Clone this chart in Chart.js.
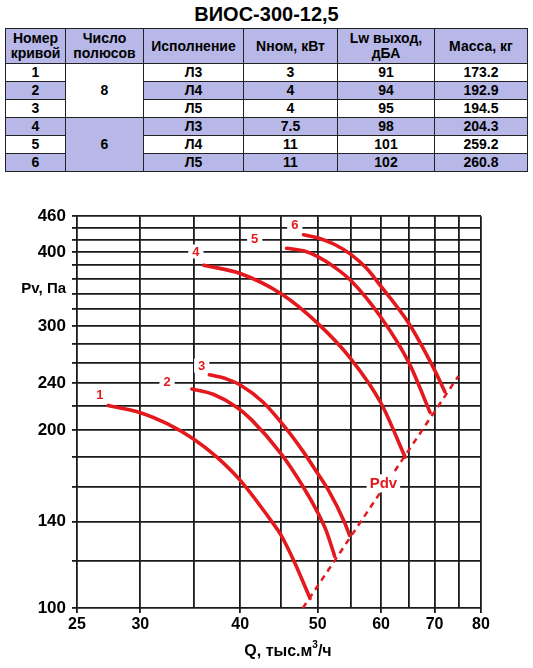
<!DOCTYPE html>
<html>
<head>
<meta charset="utf-8">
<script src="https://cdn.jsdelivr.net/npm/chart.js@4/dist/chart.umd.min.js"></script>
<style>
  html, body { margin:0; padding:0; background:#fff; }
  body { width:533px; height:668px; position:relative; overflow:hidden; font-family:"Liberation Sans", Arial, sans-serif; }
  #title { position:absolute; left:0; top:1px; width:533px; text-align:center; font-weight:bold; font-size:20px; line-height:26px; color:#000; }
  #tbl { position:absolute; left:5px; top:28px; border-collapse:collapse; table-layout:fixed; }
  #tbl td, #tbl th { border:1px solid #222; padding:0; text-align:center; font-weight:bold; font-size:14px; color:#000; }
  #tbl th { height:34px; line-height:15px; background:#b8b8e8; }
  #tbl td { height:17px; line-height:17px; }
  #tbl .lav { background:#b8b8e8; }
  #wrap { position:absolute; left:0; top:200px; width:533px; height:468px; }
</style>
</head>
<body>
<div id="title">ВИОС-300-12,5</div>
<table id="tbl"></table>
<div id="wrap"><canvas id="c" width="533" height="468"></canvas></div>
<script>
// ---- table data ----
const tableHeaders = ['Номер<br>кривой', 'Число<br>полюсов', 'Исполнение', 'Nном, кВт', 'Lw выход,<br>дБА', 'Масса, кг'];
const curveNo = ['1', '2', '3', '4', '5', '6'];
const poles = ['8', '8', '8', '6', '6', '6'];
const versions = ['Л3', 'Л4', 'Л5', 'Л3', 'Л4', 'Л5'];
const powerKW = ['3', '4', '4', '7.5', '11', '11'];
const lwOut = ['91', '94', '95', '98', '101', '102'];
const massKg = ['173.2', '192.9', '194.5', '204.3', '259.2', '260.8'];

// ---- curve data (Q, тыс.м3/ч ; Pv, Па) ----
const c1Q = [27.35, 30, 32.4, 35, 37.4, 40, 43.8, 45, 46.7, 48.9];
const c1P = [220, 214, 205, 193, 180, 164.4, 140, 132.7, 120, 103.8];
const c2Q = [34.8, 37, 39.6, 41.3, 45, 47.9, 50, 51.2, 52.5];
const c2P = [234.7, 229.9, 218.6, 208.3, 182.3, 160.7, 145, 135.4, 122.3];
const c3Q = [36.6, 38.5, 40, 42.7, 45.6, 48, 50, 51.6, 54, 54.8];
const c3P = [248, 243.9, 238.4, 223.1, 201.5, 183.5, 168.8, 157.9, 139.7, 132.7];
const c4Q = [36.0, 40, 45, 50, 55, 60, 64.3];
const c4P = [380, 368, 340, 303, 264, 222, 180];
const c5Q = [45.7, 48, 50, 52.5, 55, 60, 65, 69.1];
const c5P = [406, 402, 393, 377, 358, 310, 260, 214];
const c6Q = [48, 50.5, 52.5, 55, 57.5, 60, 65, 70, 72.1];
const c6P = [428, 421, 412, 396.4, 375.8, 349.9, 302.9, 252.6, 232.1];
const pdvQ = [47.9, 75];
const pdvP = [100, 247];

const curveLabels = ['1', '2', '3', '4', '5', '6'];
const curveLabelQ = [26.7, 32.4, 35.8, 35.2, 41.7, 46.8];
const curveLabelP = [230, 242, 257, 401, 422, 446];
const pdvLabelQ = 60.4;
const pdvLabelP = 162.5;

// ---- axis ticks ----
const xGridValues = [25, 30, 35, 40, 45, 50, 55, 60, 65, 70, 75, 80];
const xTickLabels = [25, 30, 40, 50, 60, 70, 80];
const yGridValues = [100, 120, 140, 160, 180, 200, 220, 240, 260, 280, 300, 320, 340, 360, 380, 400, 420, 440, 460];
const yTickLabels = [100, 140, 200, 240, 300, 400, 460];
const yTitleValue = 346;
const yTitleText = 'Pv, Па';

// ---- build table ----
(function () {
  const t = document.getElementById('tbl');
  const widths = [60, 78, 100, 94, 97, 93];
  let cg = '<colgroup>' + widths.map(w => '<col style="width:' + w + 'px">').join('') + '</colgroup>';
  let h = '<tr>' + tableHeaders.map(x => '<th>' + x + '</th>').join('') + '</tr>';
  for (let i = 0; i < curveNo.length; i++) {
    const lav = (i % 2 === 1) ? ' class="lav"' : '';
    let r = '<tr>';
    r += '<td' + lav + '>' + curveNo[i] + '</td>';
    if (i % 3 === 0) {
      const pl = (i >= 3) ? ' class="lav"' : '';
      r += '<td rowspan="3"' + pl + '>' + poles[i] + '</td>';
    }
    r += '<td' + lav + '>' + versions[i] + '</td>';
    r += '<td' + lav + '>' + powerKW[i] + '</td>';
    r += '<td' + lav + '>' + lwOut[i] + '</td>';
    r += '<td' + lav + '>' + massKg[i] + '</td>';
    r += '</tr>';
    h += r;
  }
  t.innerHTML = cg + h;
})();

// ---- chart ----
const RED = '#e3191e';
const GRID = '#1a1a1a';
const FONT = '"Liberation Sans", Arial, sans-serif';
function pts(qs, ps) { return qs.map((q, i) => ({ x: q, y: ps[i] })); }
function curveDs(qs, ps) {
  return { data: pts(qs, ps), borderColor: RED, borderWidth: 3.6, pointRadius: 0, showLine: true, cubicInterpolationMode: 'monotone', borderCapStyle: 'round', borderJoinStyle: 'round', fill: false };
}

const labelPlugin = {
  id: 'labels',
  afterDatasetsDraw(chart) {
    const ctx = chart.ctx;
    const xs = chart.scales.x, ys = chart.scales.y;
    ctx.save();
    ctx.textAlign = 'center';
    ctx.textBaseline = 'middle';
    ctx.font = 'bold 13px ' + FONT;
    curveLabels.forEach((t, i) => {
      const px = xs.getPixelForValue(curveLabelQ[i]);
      const py = ys.getPixelForValue(curveLabelP[i]);
      const w = ctx.measureText(t).width + 8;
      ctx.fillStyle = '#fff';
      ctx.fillRect(px - w / 2, py - 7, w, 14);
      ctx.fillStyle = RED;
      ctx.fillText(t, px, py + 1);
    });
    ctx.font = 'bold 15px ' + FONT;
    const px = xs.getPixelForValue(pdvLabelQ);
    const py = ys.getPixelForValue(pdvLabelP);
    const w = ctx.measureText('Pdv').width + 6;
    ctx.fillStyle = '#fff';
    ctx.fillRect(px - w / 2, py - 9, w, 18);
    ctx.fillStyle = RED;
    ctx.fillText('Pdv', px, py + 1);
    ctx.restore();
  },
  afterDraw(chart) {
    const ctx = chart.ctx;
    ctx.save();
    ctx.fillStyle = '#000';
    ctx.textBaseline = 'alphabetic';
    ctx.textAlign = 'left';
    const a = 'Q, тыс.м', b = '/ч';
    ctx.font = 'bold 16px ' + FONT;
    const wa = ctx.measureText(a).width;
    ctx.font = 'bold 10px ' + FONT;
    const ws = ctx.measureText('3').width;
    ctx.font = 'bold 16px ' + FONT;
    const wb = ctx.measureText(b).width;
    const total = wa + ws + wb;
    const x0 = 288 - total / 2;
    const y0 = 456;
    ctx.fillText(a, x0, y0);
    ctx.font = 'bold 10px ' + FONT;
    ctx.fillText('3', x0 + wa, y0 - 8);
    ctx.font = 'bold 16px ' + FONT;
    ctx.fillText(b, x0 + wa + ws, y0);
    ctx.restore();
  }
};

new Chart(document.getElementById('c'), {
  type: 'scatter',
  data: {
    datasets: [
      curveDs(c1Q, c1P), curveDs(c2Q, c2P), curveDs(c3Q, c3P),
      curveDs(c4Q, c4P), curveDs(c5Q, c5P), curveDs(c6Q, c6P),
      { data: pts(pdvQ, pdvP), borderColor: RED, borderWidth: 2.5, borderDash: [6, 5], pointRadius: 0, showLine: true, tension: 0, fill: false }
    ]
  },
  options: {
    responsive: false,
    devicePixelRatio: 1,
    animation: false,
    events: [],
    layout: { padding: { left: 0, right: 52, top: 15, bottom: 0 } },
    plugins: { legend: { display: false }, tooltip: { enabled: false } },
    scales: {
      x: {
        type: 'logarithmic', min: 25, max: 80,
        afterBuildTicks: s => { s.ticks = xGridValues.map(v => ({ value: v })); },
        afterFit: s => { s.height = 60; },
        border: { display: false },
        grid: {
          color: GRID, lineWidth: 1.8, tickLength: 5,
          tickColor: c => (c.tick && xTickLabels.includes(c.tick.value)) ? GRID : 'rgba(0,0,0,0)'
        },
        ticks: {
          autoSkip: false, maxRotation: 0, padding: 2, color: '#000',
          font: { family: FONT, size: 16, weight: 'bold' },
          callback: v => xTickLabels.includes(v) ? String(v) : ''
        }
      },
      y: {
        type: 'logarithmic', min: 100, max: 460,
        afterBuildTicks: s => { s.ticks = yGridValues.concat([yTitleValue]).sort((a, b) => a - b).map(v => ({ value: v })); },
        afterFit: s => { s.width = 77; },
        border: { display: false },
        grid: {
          color: c => (c.tick && c.tick.value === yTitleValue) ? 'rgba(0,0,0,0)' : GRID,
          lineWidth: 1.8, tickLength: 5,
          tickColor: c => (c.tick && c.tick.value === yTitleValue) ? 'rgba(0,0,0,0)' : GRID
        },
        ticks: {
          autoSkip: false, padding: 6, color: '#000',
          font: c => ({ family: FONT, size: (c.tick && c.tick.value === yTitleValue) ? 15 : 17, weight: 'bold' }),
          callback: v => v === yTitleValue ? yTitleText : (yTickLabels.includes(v) ? String(v) : '')
        }
      }
    }
  },
  plugins: [labelPlugin]
});
</script>
</body>
</html>
